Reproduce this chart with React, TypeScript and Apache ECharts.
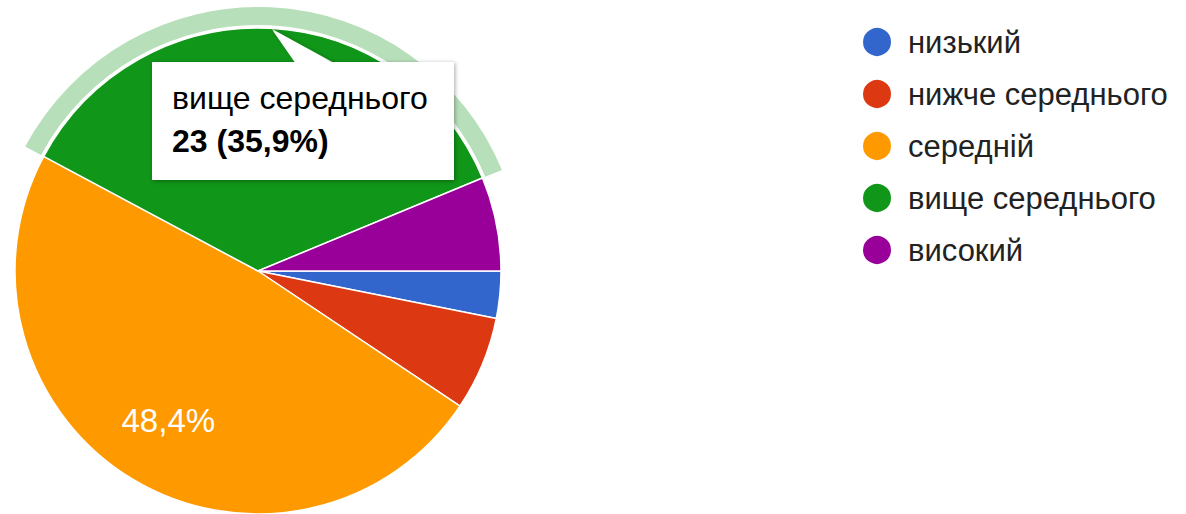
import React, { useEffect, useRef } from "react";
import * as echarts from "echarts";

const categories = ["низький", "нижче середнього", "середній", "вище середнього", "високий"];
const values = [2, 4, 31, 23, 4];
const colors = ["#3366cc", "#dc3912", "#ff9900", "#109618", "#990099"];
const highlightedIndex = 3;

const FONT = "'Liberation Sans', Arial, sans-serif";

export default function App() {
  const ref = useRef<HTMLDivElement>(null);
  useEffect(() => {
    if (!ref.current) return;
    const chart = echarts.init(ref.current, undefined, { renderer: "svg" });
    const total = values.reduce((a, b) => a + b, 0);
    const pct = (v: number) => ((v / total) * 100).toFixed(1).replace(".", ",") + "%";
    const data = categories.map((name, i) => ({ name, value: values[i], itemStyle: { color: colors[i] } }));
    const cx = 258, cy = 271, r = 243;
    const hName = categories[highlightedIndex];
    const hValue = values[highlightedIndex];

    chart.setOption({
      animation: false,
      color: colors,
      legend: {
        orient: "vertical",
        left: 856,
        top: 21,
        icon: "circle",
        itemWidth: 30,
        itemHeight: 30,
        itemGap: 20,
        selectedMode: false,
        data: categories,
        textStyle: { fontFamily: FONT, fontSize: 31, color: "#222222", lineHeight: 30, padding: [0, 0, 0, 11] },
      },
      series: [
        {
          type: "pie",
          silent: true,
          center: [cx, cy],
          radius: [0, r],
          startAngle: 0,
          clockwise: true,
          avoidLabelOverlap: false,
          label: { show: false },
          labelLine: { show: false },
          itemStyle: { borderColor: "#ffffff", borderWidth: 1.5 },
          data,
          z: 2,
        },
        {
          type: "pie",
          silent: true,
          center: [cx, cy],
          radius: [100, r],
          startAngle: 0,
          clockwise: true,
          avoidLabelOverlap: false,
          itemStyle: { color: "transparent" },
          label: {
            show: true,
            position: "inside",
            fontFamily: FONT,
            fontSize: 33,
            color: "#ffffff",
            formatter: (p: any) =>
              p.value / total >= 0.1 && p.dataIndex !== highlightedIndex ? pct(p.value) : "",
          },
          labelLine: { show: false },
          data: categories.map((name, i) => ({ name, value: values[i] })),
          legendHoverLink: false,
          z: 3,
        },
        {
          type: "pie",
          silent: true,
          center: [cx, cy],
          radius: [246, 264],
          startAngle: 0,
          clockwise: true,
          label: { show: false },
          labelLine: { show: false },
          data: categories.map((name, i) => ({
            name,
            value: values[i],
            itemStyle: { color: i === highlightedIndex ? "rgba(16,150,24,0.3)" : "transparent" },
          })),
          z: 2,
        },
      ],
      graphic: [
        {
          type: "group",
          z: 100,
          children: [
            {
              type: "polygon",
              z: 100,
              shape: { points: [[272, 29], [298, 63], [334, 63]] },
              style: { fill: "#ffffff", shadowBlur: 4, shadowColor: "rgba(0,0,0,0.35)", shadowOffsetX: 1, shadowOffsetY: 1 },
            },
            {
              type: "rect",
              z: 100,
              shape: { x: 152, y: 62, width: 302, height: 118 },
              style: { fill: "#ffffff", shadowBlur: 4, shadowColor: "rgba(0,0,0,0.35)", shadowOffsetX: 1, shadowOffsetY: 1 },
            },
            {
              type: "polygon",
              z: 101,
              shape: { points: [[273, 31], [296, 64], [333, 64]] },
              style: { fill: "#ffffff" },
            },
            {
              type: "text",
              z: 102,
              style: { x: 172, y: 98, text: hName, fontFamily: FONT, fontSize: 32, fill: "#000000", verticalAlign: "middle" },
            },
            {
              type: "text",
              z: 102,
              style: {
                x: 172,
                y: 141,
                text: `${hValue} (${pct(hValue)})`,
                fontFamily: FONT,
                fontSize: 32,
                fontWeight: "bold",
                fill: "#000000",
                verticalAlign: "middle",
              },
            },
          ],
        },
      ],
    });
    return () => chart.dispose();
  }, []);
  return <div ref={ref} style={{ position: "fixed", left: 0, top: 0, width: 1186, height: 514, background: "#ffffff" }} />;
}
